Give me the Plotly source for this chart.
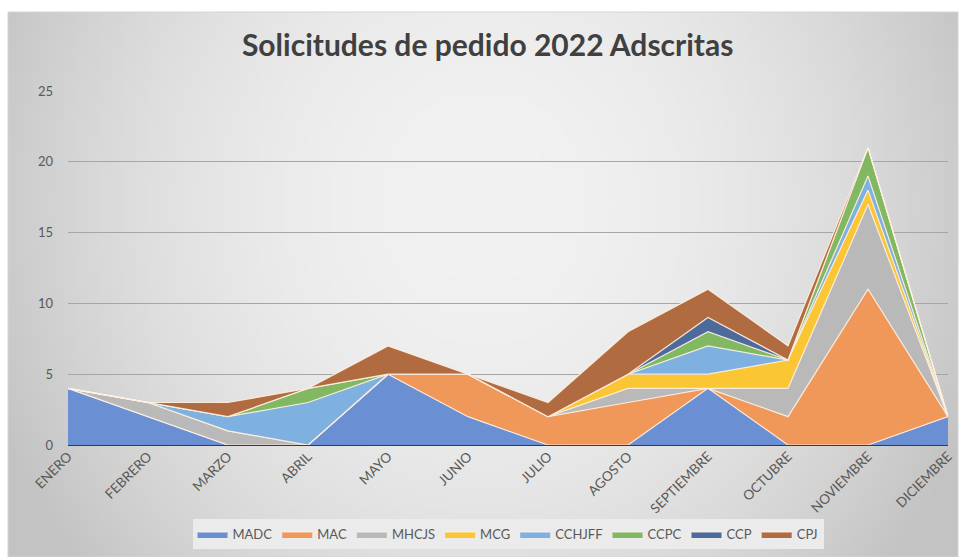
import base64, struct, zlib
import plotly.graph_objects as go

meses = ["ENERO", "FEBRERO", "MARZO", "ABRIL", "MAYO", "JUNIO", "JULIO",
         "AGOSTO", "SEPTIEMBRE", "OCTUBRE", "NOVIEMBRE", "DICIEMBRE"]

MADC = [4, 2, 0, 0, 5, 2, 0, 0, 4, 0, 0, 2]
MAC = [0, 0, 0, 0, 0, 3, 2, 3, 0, 2, 11, 0]
MHCJS = [0, 1, 1, 0, 0, 0, 0, 1, 0, 2, 6, 0]
MCG = [0, 0, 0, 0, 0, 0, 0, 1, 1, 2, 1, 0]
CCHJFF = [0, 0, 1, 3, 0, 0, 0, 0, 2, 0, 1, 0]
CCPC = [0, 0, 0, 1, 0, 0, 0, 0, 1, 0, 2, 0]
CCP = [0, 0, 0, 0, 0, 0, 0, 0, 1, 0, 0, 0]
CPJ = [0, 0, 1, 0, 2, 0, 1, 3, 2, 1, 0, 0]

series = [("MADC", MADC, "#6B8FD3"), ("MAC", MAC, "#F0975A"),
          ("MHCJS", MHCJS, "#B9B9B9"), ("MCG", MCG, "#FBC633"),
          ("CCHJFF", CCHJFF, "#7FB1E0"), ("CCPC", CCPC, "#82B862"),
          ("CCP", CCP, "#4C6B9C"), ("CPJ", CPJ, "#B16B40")]


def gradient_png(w=160, h=94):
    rows = []
    for j in range(h):
        row = bytearray([0])
        for i in range(w):
            dx = (i / (w - 1) - 0.5) / 0.5
            dy = (j / (h - 1) - 0.35) / 0.65
            d2 = dx * dx * 0.85 + dy * dy * 0.4
            v = int(max(195, min(242, 242 - 44 * d2)))
            row += bytes([v, v, v])
        rows.append(bytes(row))
    raw = b"".join(rows)

    def chunk(t, data):
        c = struct.pack(">I", len(data)) + t + data
        return c + struct.pack(">I", zlib.crc32(t + data) & 0xffffffff)
    png = b"\x89PNG\r\n\x1a\n" + chunk(b"IHDR", struct.pack(">IIBBBBB", w, h, 8, 2, 0, 0, 0))
    png += chunk(b"IDAT", zlib.compress(raw, 9)) + chunk(b"IEND", b"")
    return "data:image/png;base64," + base64.b64encode(png).decode()


fig = go.Figure()
for name, vals, col in series:
    fig.add_trace(go.Scatter(
        x=meses, y=vals, name=name, stackgroup="one", mode="lines",
        line=dict(color="rgba(255,240,225,0.9)", width=1.2),
        fillcolor=col, hoverinfo="x+y+name"))

L, R, T, B = 68, 12, 91, 112
W, H = 960, 557
pw, ph = W - L - R, H - T - B
x0 = (8 - L) / pw
x1 = (958 - L) / pw
y1 = (H - B - 12) / ph
y0 = -(B) / ph

fig.update_layout(
    width=W, height=H,
    margin=dict(l=L, r=R, t=T, b=B, autoexpand=False),
    paper_bgcolor="white", plot_bgcolor="rgba(0,0,0,0)",
    font=dict(family="Lato, 'Open Sans', sans-serif", color="#595959", size=13),
    title=dict(text="<b>Solicitudes de pedido 2022 Adscritas</b>",
               x=0.508, xanchor="center", y=1 - 45 / H, yanchor="middle",
               font=dict(size=30, color="#404040", family="Lato, 'Open Sans', sans-serif")),
    images=[dict(source=gradient_png(), xref="paper", yref="paper",
                 x=x0, y=y1, sizex=x1 - x0, sizey=y1 - y0,
                 sizing="stretch", layer="below", xanchor="left", yanchor="top")],
    shapes=[dict(type="rect", xref="paper", yref="paper", x0=x0, x1=x1, y0=y0, y1=y1,
                 line=dict(color="#D4D4D4", width=1), layer="below")],
    xaxis=dict(type="category", range=[0, 11], showgrid=False, tickangle=-45,
               ticks="", showline=False, zeroline=False, automargin=False,
               tickfont=dict(size=13.5, color="#595959")),
    yaxis=dict(range=[0, 25], tickvals=[0, 5, 10, 15, 20, 25], showgrid=True,
               gridcolor="#A6A6A6", gridwidth=1, zeroline=True, zerolinecolor="#3A3A3A",
               zerolinewidth=2, ticks="", ticklabelstandoff=14, automargin=False,
               tickfont=dict(size=13, color="#595959")),
    legend=dict(orientation="h", x=0.5, xanchor="center", y=(H - B - 534) / ph,
                yanchor="middle", bgcolor="#EBEBEB", font=dict(size=13, color="#595959"),
                itemwidth=30, traceorder="normal"),
    showlegend=True,
)

fig.write_html("out.html", config={"displayModeBar": False},
               post_script="document.body.style.margin='0px';document.body.style.overflow='hidden';")
